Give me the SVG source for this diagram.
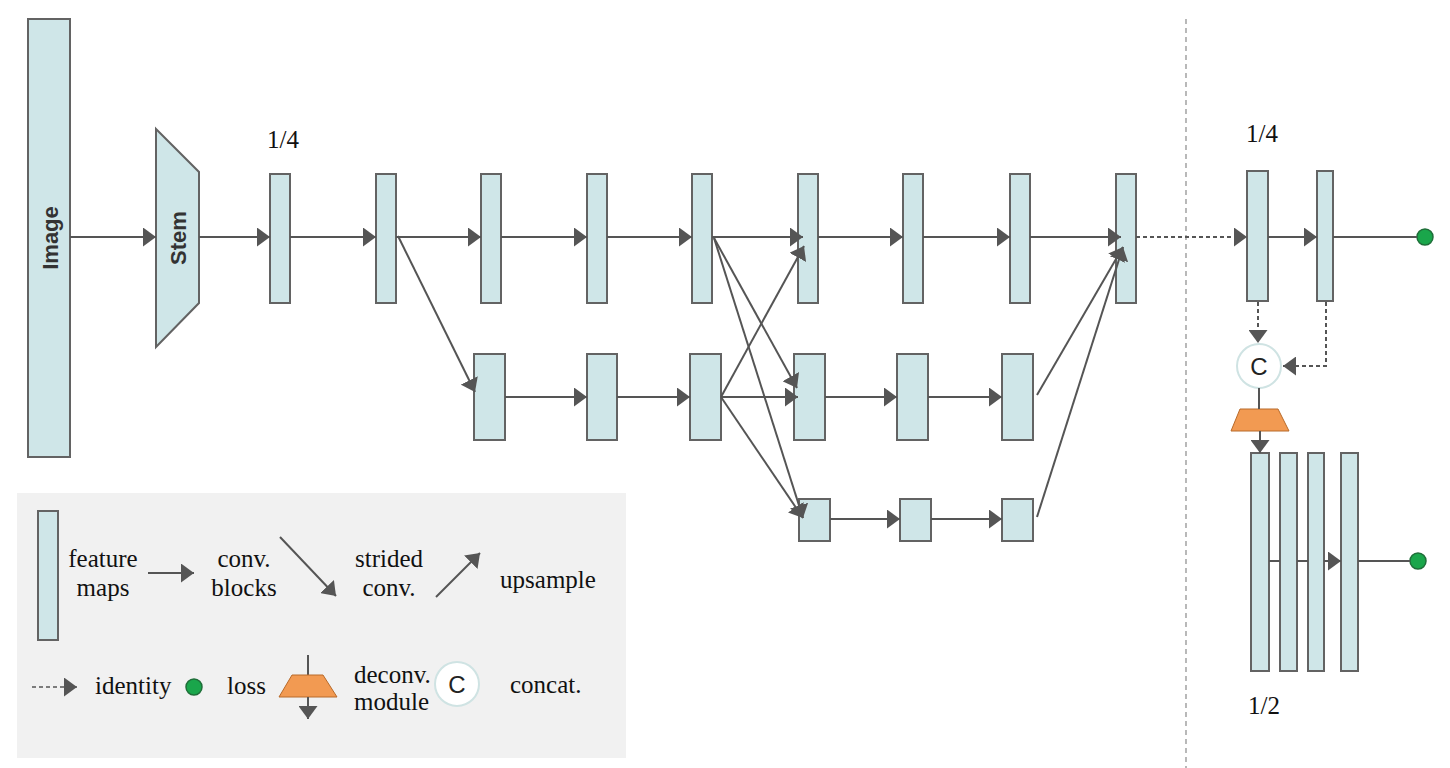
<svg xmlns="http://www.w3.org/2000/svg" width="1450" height="768" viewBox="0 0 1450 768">
<style>
.fm{fill:#cfe6e8;stroke:#636363;stroke-width:2}
.ln{stroke:#555;stroke-width:2;fill:none}
.ar{stroke:#555;stroke-width:2;fill:none;marker-end:url(#ah)}
.da{stroke:#555;stroke-width:2;fill:none;stroke-dasharray:4 3;marker-end:url(#ah)}
.sep{stroke:#8a8a8a;stroke-width:1.2;fill:none;stroke-dasharray:5 4}
.tx{font-family:"Liberation Serif","Times New Roman",serif;font-size:25px;fill:#111}
.bl{font-family:"Liberation Sans",Arial,sans-serif;font-size:22px;font-weight:bold;fill:#333}
.ct{font-family:"Liberation Sans",Arial,sans-serif;font-size:24px;fill:#222}
.loss{fill:#1aa64b;stroke:#1f6e39;stroke-width:1.5}
.cc{fill:#fff;stroke:#cfe3e3;stroke-width:2}
.dec{fill:#f29a52;stroke:#b86a2a;stroke-width:1}
</style>
<defs>
<marker id="ah" viewBox="0 0 13 19" refX="13" refY="9.5" markerWidth="13" markerHeight="19" markerUnits="userSpaceOnUse" orient="auto">
<path d="M0,0 L13,9.5 L0,19 Z" fill="#555"/>
</marker>
</defs>
<rect width="1450" height="768" fill="#fff"/>

<g id="legend-box"><rect x="17" y="493" width="609" height="265" fill="#f1f1f1"/></g>

<line class="sep" x1="1186" y1="19" x2="1186" y2="768"/>

<g id="nodes">
<g id="image"><rect class="fm" x="28" y="19" width="42" height="438"/><text class="bl" transform="translate(58,238) rotate(-90)" text-anchor="middle">Image</text></g>
<g id="stem"><polygon class="fm" points="156,129 199,172 199,303 156,347"/><text class="bl" transform="translate(186,238) rotate(-90)" text-anchor="middle">Stem</text></g>
<g id="t1"><rect class="fm" x="270" y="174" width="20" height="129"/></g>
<g id="t2"><rect class="fm" x="376" y="174" width="20" height="129"/></g>
<g id="t3"><rect class="fm" x="481" y="174" width="20" height="129"/></g>
<g id="t4"><rect class="fm" x="587" y="174" width="20" height="129"/></g>
<g id="t5"><rect class="fm" x="692" y="174" width="20" height="129"/></g>
<g id="t6"><rect class="fm" x="798" y="174" width="20" height="129"/></g>
<g id="t7"><rect class="fm" x="903" y="174" width="20" height="129"/></g>
<g id="t8"><rect class="fm" x="1010" y="174" width="20" height="129"/></g>
<g id="t9"><rect class="fm" x="1116" y="174" width="20" height="129"/></g>
<g id="m1"><rect class="fm" x="474" y="354" width="31" height="86"/></g>
<g id="m2"><rect class="fm" x="587" y="354" width="30" height="86"/></g>
<g id="m3"><rect class="fm" x="690" y="354" width="31" height="86"/></g>
<g id="m4"><rect class="fm" x="794" y="354" width="31" height="86"/></g>
<g id="m5"><rect class="fm" x="897" y="354" width="31" height="86"/></g>
<g id="m6"><rect class="fm" x="1002" y="354" width="31" height="86"/></g>
<g id="b1"><rect class="fm" x="799" y="499" width="31" height="42"/></g>
<g id="b2"><rect class="fm" x="900" y="499" width="31" height="42"/></g>
<g id="b3"><rect class="fm" x="1002" y="499" width="31" height="42"/></g>
<g id="ra"><rect class="fm" x="1247" y="171" width="21" height="130"/></g>
<g id="rb"><rect class="fm" x="1317" y="171" width="16" height="130"/></g>
<g id="concat"><circle class="cc" cx="1259" cy="366" r="22"/><text class="ct" x="1259" y="375" text-anchor="middle">C</text></g>
<g id="deconv"><polygon class="dec" points="1240,409 1278,409 1289,431 1231,431"/></g>
<g id="s1"><rect class="fm" x="1251" y="453" width="18" height="218"/></g>
<g id="s2"><rect class="fm" x="1280" y="453" width="17" height="218"/></g>
<g id="s3"><rect class="fm" x="1308" y="453" width="16" height="218"/></g>
<g id="s4"><rect class="fm" x="1341" y="453" width="17" height="218"/></g>
<g id="loss1"><circle class="loss" cx="1425" cy="237" r="8"/></g>
<g id="loss2"><circle class="loss" cx="1418" cy="561" r="8"/></g>
</g>

<g id="connectors">
<line class="ar" x1="70" y1="237" x2="156" y2="237"/>
<line class="ar" x1="199" y1="237" x2="270" y2="237"/>
<line class="ar" x1="290" y1="237" x2="376" y2="237"/>
<line class="ar" x1="396" y1="237" x2="481" y2="237"/>
<line class="ar" x1="398" y1="236" x2="475" y2="392"/>
<line class="ar" x1="501" y1="237" x2="587" y2="237"/>
<line class="ar" x1="607" y1="237" x2="692" y2="237"/>
<line class="ar" x1="505" y1="397" x2="587" y2="397"/>
<line class="ar" x1="617" y1="397" x2="690" y2="397"/>
<line class="ar" x1="712" y1="237" x2="803" y2="237"/>
<line class="ar" x1="714" y1="238" x2="797" y2="388"/>
<line class="ar" x1="714" y1="238" x2="803" y2="518"/>
<line class="ar" x1="721" y1="397" x2="804" y2="246"/>
<line class="ar" x1="721" y1="397" x2="798" y2="397"/>
<line class="ar" x1="721" y1="397" x2="803" y2="518"/>
<line class="ar" x1="818" y1="237" x2="903" y2="237"/>
<line class="ar" x1="923" y1="237" x2="1010" y2="237"/>
<line class="ar" x1="1030" y1="237" x2="1121" y2="237"/>
<line class="ar" x1="825" y1="397" x2="897" y2="397"/>
<line class="ar" x1="928" y1="397" x2="1002" y2="397"/>
<line class="ar" x1="830" y1="519" x2="900" y2="519"/>
<line class="ar" x1="931" y1="519" x2="1002" y2="519"/>
<line class="ar" x1="1037" y1="395" x2="1123" y2="247"/>
<line class="ar" x1="1037" y1="517" x2="1123" y2="247"/>
<line class="da" x1="1136" y1="237" x2="1247" y2="237"/>
<line class="ar" x1="1268" y1="237" x2="1317" y2="237"/>
<line class="ln" x1="1333" y1="237" x2="1417" y2="237"/>
<line class="da" x1="1258" y1="302" x2="1258" y2="343"/>
<polyline class="da" points="1326,302 1326,366 1283,366"/>
<line class="ln" x1="1259" y1="388" x2="1259" y2="409"/>
<line class="ar" x1="1260" y1="431" x2="1260" y2="453"/>
<line class="ln" x1="1269" y1="561" x2="1280" y2="561"/>
<line class="ln" x1="1297" y1="561" x2="1308" y2="561"/>
<line class="ar" x1="1324" y1="561" x2="1341" y2="561"/>
<line class="ln" x1="1358" y1="561" x2="1410" y2="561"/>
</g>

<g id="labels">
<text class="tx" x="267" y="148">1/4</text>
<text class="tx" x="1246" y="142">1/4</text>
<text class="tx" x="1248" y="714">1/2</text>
</g>

<g id="legend">
<rect class="fm" x="38" y="511" width="20" height="129"/>
<text class="tx" x="103" y="567" text-anchor="middle">feature</text>
<text class="tx" x="103" y="596" text-anchor="middle">maps</text>
<line class="ar" x1="148" y1="573" x2="194" y2="573"/>
<text class="tx" x="244" y="567" text-anchor="middle">conv.</text>
<text class="tx" x="244" y="596" text-anchor="middle">blocks</text>
<line class="ar" x1="280" y1="537" x2="336" y2="596"/>
<text class="tx" x="389" y="567" text-anchor="middle">strided</text>
<text class="tx" x="389" y="596" text-anchor="middle">conv.</text>
<line class="ar" x1="436" y1="597" x2="480" y2="553"/>
<text class="tx" x="548" y="588" text-anchor="middle">upsample</text>
<line class="da" x1="32" y1="687" x2="77" y2="687" style="stroke-width:1.5"/>
<text class="tx" x="95" y="694">identity</text>
<circle class="loss" cx="194" cy="687" r="8"/>
<text class="tx" x="227" y="694">loss</text>
<line class="ln" x1="308" y1="655" x2="308" y2="675"/>
<polygon class="dec" points="292,675 323,675 337,697 279,697"/>
<line class="ar" x1="308" y1="697" x2="308" y2="719"/>
<text class="tx" x="354" y="683">deconv.</text>
<text class="tx" x="354" y="710">module</text>
<circle class="cc" cx="457" cy="684" r="22"/>
<text class="ct" x="457" y="693" text-anchor="middle">C</text>
<text class="tx" x="510" y="693">concat.</text>
</g>
</svg>
